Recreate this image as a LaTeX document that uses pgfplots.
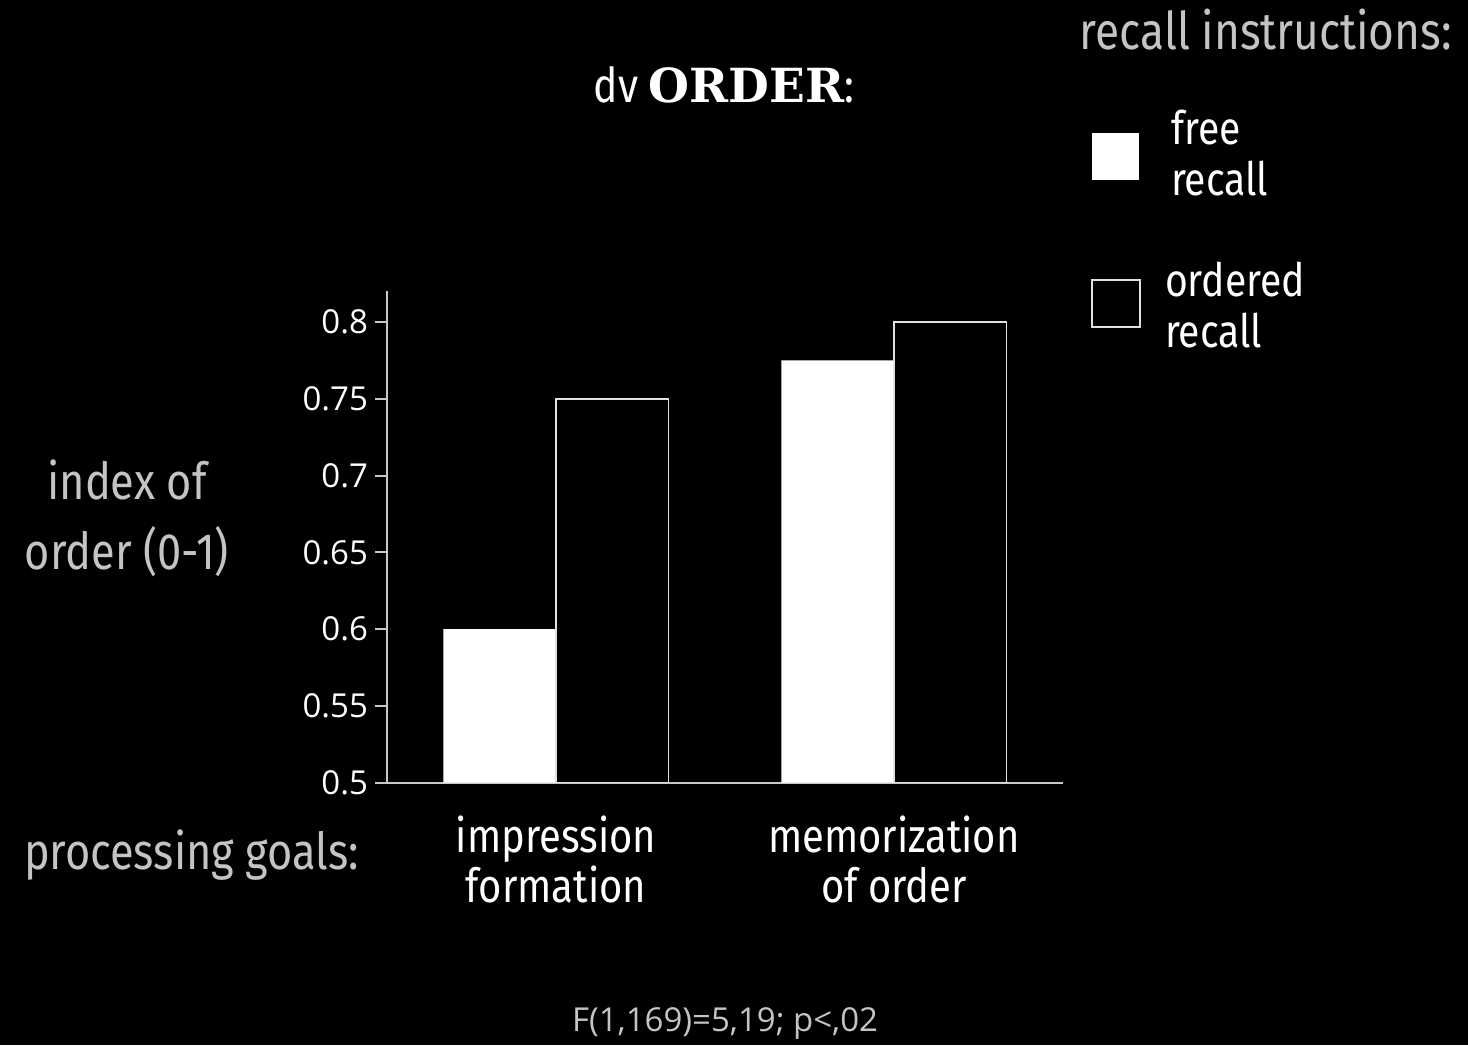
\documentclass[border=0pt]{standalone}
\usepackage{fontspec}
\usepackage{pgfplots}
\pgfplotsset{compat=1.18}
\setmainfont{Fira Sans}
\newfontfamily\cond{Fira Sans}[FakeStretch=0.85]
\newfontfamily\numf{Open Sans}
\newfontfamily\slab{DejaVu Serif}
\definecolor{lgray}{HTML}{C4C4C4}
\definecolor{axgray}{HTML}{C8C8C8}

\begin{document}
\begin{tikzpicture}
    \fill[black] (0,0) rectangle (734pt,522.5pt);
    \begin{axis}[
        at={(193.5pt,131.15pt)}, anchor=south west,
        scale only axis,
        width=338pt, height=245.7pt,
        xmin=0, xmax=2,
        ymin=0.5, ymax=0.82,
        axis lines*=left,
        axis line style={axgray, line width=1pt},
        ybar, bar shift=0pt, bar width=0.3333,
        xtick={0.5,1.5},
        xticklabels={{impression\\formation},{memorization\\of order}},
        x tick style={draw=none},
        extra x ticks={0,1,2},
        extra x tick labels={},
        extra x tick style={tick style={draw=axgray, line width=1pt}, major tick length=5pt, tick align=outside},
        x tick label style={align=center, white, font=\cond\fontsize{23.5}{25}\selectfont, yshift=-7pt},
        ytick={0.5,0.55,...,0.8},
        y tick style={draw=axgray, line width=1pt},
        tick align=outside, major tick length=6pt,
        yticklabel style={white, font=\numf\fontsize{16.5}{18}\selectfont,
            /pgf/number format/fixed, /pgf/number format/precision=2},
        /pgf/number format/assume math mode=true,
        clip=true,
    ]
    % free recall
    \addplot[fill=white, draw=none] coordinates {(0.3333,0.6) (1.3333,0.775)};
    % ordered recall
    \addplot[fill=black, draw=white!88!black, line width=0.75pt] coordinates {(0.6667,0.75) (1.6667,0.8)};
    \end{axis}

    % title
    \node[white, font=\fontsize{24}{26}\selectfont] at (362pt,480pt)
        {\cond dv {\slab\bfseries\fontsize{23.5}{26}\selectfont ORDER}:};
    % legend
    \node[lgray, anchor=east, font=\cond\fontsize{26}{28}\selectfont] at (729.5pt,507.5pt) {recall instructions:};
    \fill[white] (546pt,432.5pt) rectangle (569.5pt,456pt);
    \draw[white!88!black, line width=0.75pt] (546pt,359pt) rectangle (570pt,382.5pt);
    \node[white, anchor=west, align=left, font=\cond\fontsize{23}{25.5}\selectfont] at (582pt,445.75pt) {free\\recall};
    \node[white, anchor=west, align=left, font=\cond\fontsize{23}{25.5}\selectfont] at (579pt,370pt) {ordered\\recall};
    % axis labels
    \node[lgray, align=center, font=\cond\fontsize{25.5}{35}\selectfont] at (63.5pt,263.25pt) {index of\\order (0-1)};
    \node[lgray, anchor=east, font=\cond\fontsize{25.5}{28}\selectfont] at (183pt,95pt) {processing goals:};
    % footer
    \node[lgray, font=\numf\fontsize{16.5}{18}\selectfont] at (362.5pt,10.5pt) {F(1,169)=5,19; p<,02};
\end{tikzpicture}
\end{document}
